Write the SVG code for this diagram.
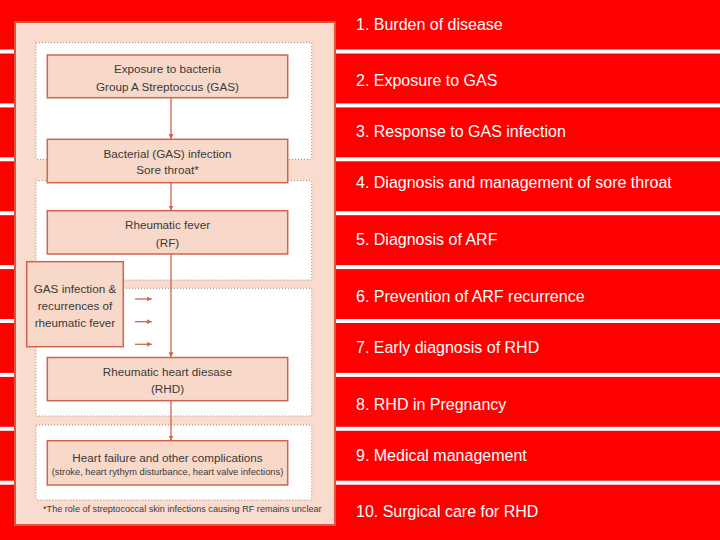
<svg xmlns="http://www.w3.org/2000/svg" width="720" height="540" viewBox="0 0 720 540">
<defs>
<style>
.band{fill:#ffffff}
.topic{font-family:"Liberation Sans",Arial,sans-serif;font-size:16px;fill:#ffffff}
.zone{fill:#ffffff;stroke:#9c8a80;stroke-width:1;stroke-dasharray:1 2}
.box{fill:#f8d8c8;stroke:#cf6450;stroke-width:1.5}
.lbl{font-family:"Liberation Sans",Arial,sans-serif;font-size:11.7px;fill:#3a3a3a;text-anchor:middle}
.small{font-size:9.3px}
.foot{font-size:9.1px}
.conn{stroke:#cf6450;stroke-width:1.3;fill:none}
</style>
<marker id="ah" viewBox="0 0 10 10" refX="10" refY="5" markerWidth="5" markerHeight="5" orient="auto" markerUnits="userSpaceOnUse">
<path d="M0,0 L10,5 L0,10 z" fill="#cf6450"/>
</marker>
</defs>
<rect x="0" y="0" width="720" height="540" fill="#ff0000"/>
<g id="bands">
<rect class="band" x="0" y="49.5" width="720" height="4"/>
<rect class="band" x="0" y="103.4" width="720" height="4"/>
<rect class="band" x="0" y="157.3" width="720" height="4"/>
<rect class="band" x="0" y="211.2" width="720" height="4"/>
<rect class="band" x="0" y="265.1" width="720" height="4"/>
<rect class="band" x="0" y="319" width="720" height="4"/>
<rect class="band" x="0" y="372.9" width="720" height="4"/>
<rect class="band" x="0" y="426.8" width="720" height="4"/>
<rect class="band" x="0" y="480.7" width="720" height="4"/>
</g>
<g id="topics">
<text class="topic" x="356" y="30">1. Burden of disease</text>
<text class="topic" x="356" y="86">2. Exposure to GAS</text>
<text class="topic" x="356" y="137">3. Response to GAS infection</text>
<text class="topic" x="356" y="188">4. Diagnosis and management of sore throat</text>
<text class="topic" x="356" y="245">5. Diagnosis of ARF</text>
<text class="topic" x="356" y="302">6. Prevention of ARF recurrence</text>
<text class="topic" x="356" y="353">7. Early diagnosis of RHD</text>
<text class="topic" x="356" y="410">8. RHD in Pregnancy</text>
<text class="topic" x="356" y="461">9. Medical management</text>
<text class="topic" x="356" y="517">10. Surgical care for RHD</text>
</g>
<g id="panel">
<rect x="15" y="22" width="320" height="503" fill="#f9dccd" stroke="#e0553d" stroke-width="2"/>
<rect class="zone" x="36" y="42.7" width="275.7" height="116.6"/>
<rect class="zone" x="36" y="180.7" width="275.7" height="99.3"/>
<rect class="zone" x="36" y="288.3" width="275.7" height="127.7"/>
<rect class="zone" x="36" y="425" width="275.7" height="75"/>
</g>
<g id="connectors">
<line class="conn" x1="171" y1="97.7" x2="171" y2="139" marker-end="url(#ah)"/>
<line class="conn" x1="171" y1="182.7" x2="171" y2="210.5" marker-end="url(#ah)"/>
<line class="conn" x1="171" y1="254" x2="171" y2="357.3" marker-end="url(#ah)"/>
<line class="conn" x1="171" y1="400.7" x2="171" y2="440.5" marker-end="url(#ah)"/>
<line class="conn" x1="135" y1="299" x2="151.7" y2="299" marker-end="url(#ah)"/>
<line class="conn" x1="135" y1="321.7" x2="151.7" y2="321.7" marker-end="url(#ah)"/>
<line class="conn" x1="135" y1="344.3" x2="151.7" y2="344.3" marker-end="url(#ah)"/>
</g>
<g id="exposure">
<rect class="box" x="47.3" y="55" width="240.4" height="42.7"/>
<text class="lbl" x="167.5" y="73.3">Exposure to bacteria</text>
<text class="lbl" x="167.5" y="90.7">Group A Streptoccus (GAS)</text>
</g>
<g id="infection">
<rect class="box" x="47.3" y="139.3" width="240.4" height="43.4"/>
<text class="lbl" x="167.5" y="158.3">Bacterial (GAS) infection</text>
<text class="lbl" x="167.5" y="174.3">Sore throat*</text>
</g>
<g id="rf">
<rect class="box" x="47.3" y="210.7" width="240.4" height="43.3"/>
<text class="lbl" x="167.5" y="229.3">Rheumatic fever</text>
<text class="lbl" x="167.5" y="246.7">(RF)</text>
</g>
<g id="recurrence">
<rect class="box" x="26.7" y="261.7" width="96.6" height="85"/>
<text class="lbl" x="75" y="292.8">GAS infection &amp;</text>
<text class="lbl" x="75" y="310">recurrences of</text>
<text class="lbl" x="75" y="327">rheumatic fever</text>
</g>
<g id="rhd">
<rect class="box" x="47.3" y="357.5" width="240.4" height="43.2"/>
<text class="lbl" x="167.5" y="376">Rheumatic heart diesase</text>
<text class="lbl" x="167.5" y="392.7">(RHD)</text>
</g>
<g id="complications">
<rect class="box" x="47.3" y="440.7" width="240.4" height="44.3"/>
<text class="lbl" x="167.5" y="461.5">Heart failure and other complications</text>
<text class="lbl small" x="167.5" y="475">(stroke, heart rythym disturbance, heart valve infections)</text>
</g>
<g id="footnote">
<text class="lbl foot" x="182.3" y="512.3">*The role of streptococcal skin infections causing RF remains unclear</text>
</g>
</svg>
